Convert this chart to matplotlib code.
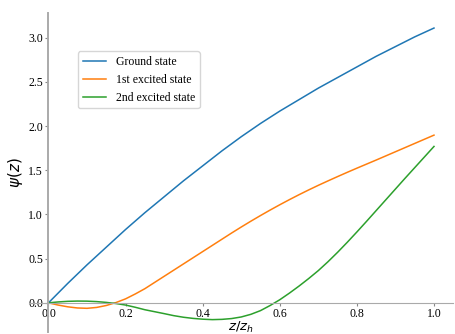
import matplotlib
matplotlib.use("Agg")
import matplotlib.pyplot as plt

plt.rcParams["font.family"] = ["Liberation Serif", "DejaVu Serif"]
plt.rcParams["mathtext.fontset"] = "dejavusans"

z = [i / 40 for i in range(41)]  # sample positions 0, 0.025, ..., 1.0
ground = [0.0, 0.11, 0.22, 0.325, 0.43, 0.53, 0.63, 0.73, 0.83, 0.925,
          1.02, 1.11, 1.20, 1.29, 1.38, 1.465, 1.55, 1.635, 1.72, 1.80,
          1.88, 1.955, 2.03, 2.10, 2.17, 2.235, 2.30, 2.365, 2.43, 2.49,
          2.55, 2.61, 2.67, 2.73, 2.79, 2.845, 2.90, 2.955, 3.01, 3.06, 3.11]
first = [0.0, -0.025, -0.045, -0.058, -0.062, -0.052, -0.03, 0.003, 0.045, 0.10,
         0.16, 0.23, 0.30, 0.37, 0.44, 0.51, 0.58, 0.65, 0.72, 0.79,
         0.858, 0.924, 0.988, 1.05, 1.11, 1.168, 1.224, 1.278, 1.33, 1.38,
         1.429, 1.477, 1.524, 1.57, 1.616, 1.663, 1.71, 1.757, 1.804, 1.851, 1.898]
second = [0.0, 0.01, 0.017, 0.02, 0.019, 0.014, 0.005, -0.008, -0.025, -0.05,
          -0.078, -0.10, -0.122, -0.145, -0.163, -0.176, -0.185, -0.19, -0.187, -0.178,
          -0.16, -0.13, -0.088, -0.03, 0.035, 0.11, 0.19, 0.275, 0.365, 0.465,
          0.572, 0.685, 0.802, 0.922, 1.044, 1.166, 1.288, 1.41, 1.53, 1.65, 1.77]
labels = ["Ground state", "1st excited state", "2nd excited state"]

fig = plt.figure(figsize=(4.56, 3.34), dpi=100)
ax = fig.add_axes([0.064, 0.006, 0.93, 0.955])

ax.plot(z, ground, color="#1f77b4", lw=1.1, label=labels[0])
ax.plot(z, first, color="#ff7f0e", lw=1.1, label=labels[1])
ax.plot(z, second, color="#2ca02c", lw=1.1, label=labels[2])

ax.set_xlim(-0.05, 1.05)
ax.set_ylim(-0.33, 3.28)

for s in ["top", "right"]:
    ax.spines[s].set_visible(False)
ax.spines["left"].set_position("zero")
ax.spines["bottom"].set_position("zero")
for s in ["left", "bottom"]:
    ax.spines[s].set_color("#aaaaaa")
ax.spines["left"].set_linewidth(1.4)
ax.tick_params(colors="#888888", labelcolor="black", labelsize=8.5,
               length=2.5, pad=1.5)

ax.set_xticks([0.0, 0.2, 0.4, 0.6, 0.8, 1.0])
ax.set_yticks([0.0, 0.5, 1.0, 1.5, 2.0, 2.5, 3.0])

ax.set_xlabel(r"$z/z_h$", fontsize=9.5, labelpad=0)
ax.set_ylabel(r"$\psi(z)$", fontsize=11, labelpad=2)

ax.legend(loc="upper left", bbox_to_anchor=(0.101, 0.899), fontsize=8.5)

fig.savefig("out.png", dpi=100)
